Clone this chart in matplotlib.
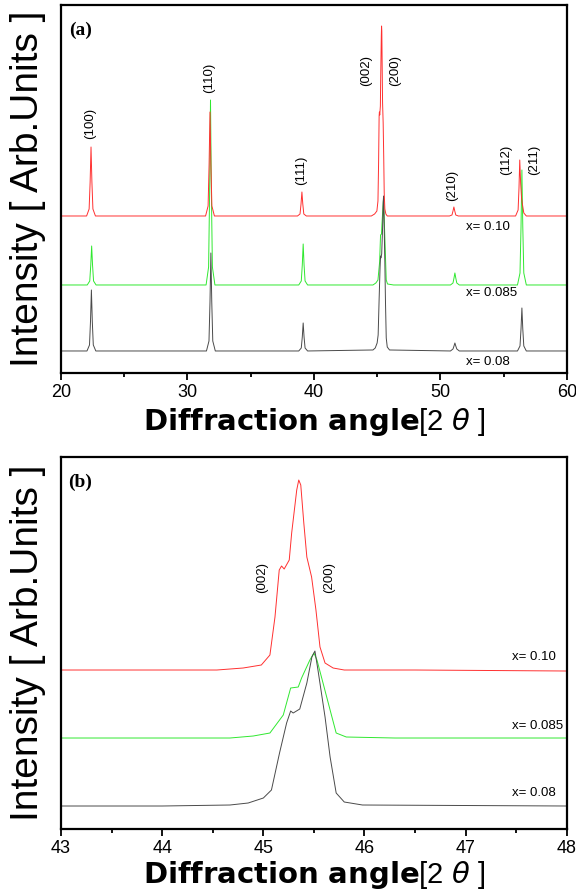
import numpy as np
import matplotlib
matplotlib.use("Agg")
import matplotlib.pyplot as plt
from matplotlib.ticker import MultipleLocator

plt.rcParams['font.family'] = ['Liberation Sans', 'DejaVu Sans']
plt.rcParams['mathtext.fontset'] = 'dejavusans'

# ---- data (net intensity above each baseline, arb. units) ----
SAMPLES = ['x= 0.10', 'x= 0.085', 'x= 0.08']
COLORS = ['#ff3030', '#30e830', '#4a4a4a']

# baselines of the stacked traces
BASE_A = [157, 88, 22]
BASE_B = [159, 91, 23]

# (002)/(200) doublet, as seen in panel (b)
RED_B_TT = [43.0, 44.0, 44.54, 44.8, 44.98, 45.065, 45.115, 45.157, 45.18, 45.206, 45.256, 45.28,
            45.33, 45.35, 45.37, 45.40, 45.43, 45.477, 45.52, 45.56, 45.61, 45.69, 45.8, 46.5, 48.0]
RED_B_I = [0, 0, 0, 2, 5, 15, 53, 100, 104, 101, 110, 137,
           180, 190, 185, 147, 113, 93, 60, 23, 7, 2, 0, 0, -1]

GREEN_B_TT = [43.0, 44.0, 44.67, 44.9, 45.065, 45.197, 45.27, 45.345, 45.378, 45.46, 45.5, 45.53,
              45.59, 45.66, 45.72, 45.82, 46.3, 48.0]
GREEN_B_I = [0, 0, 0, 2, 5, 23, 50, 51, 60, 78, 85, 78,
             55, 28, 5, 1, 0, 0]

BLACK_B_TT = [43.0, 44.0, 44.67, 44.85, 45.0, 45.08, 45.16, 45.23, 45.27, 45.295, 45.36, 45.43, 45.48,
              45.51, 45.54, 45.61, 45.66, 45.72, 45.8, 45.98, 48.0]
BLACK_B_I = [0, 0, 1, 3, 8, 16, 53, 83, 95, 93, 97, 123, 149,
             155, 136, 89, 49, 13, 4, 1, 0]

# remaining reflections of the wide scan, panel (a)
RED_A_TT = [20.0, 22.02, 22.22, 22.30, 22.37, 22.44, 22.52, 22.72,
            31.43, 31.63, 31.71, 31.78, 31.85, 31.93, 32.13,
            38.7, 38.9, 38.98, 39.05, 39.12, 39.2, 39.4,
            50.72, 50.92, 51.0, 51.07, 51.14, 51.22, 51.42,
            55.95, 56.15, 56.22, 56.28, 56.35, 56.42, 56.5, 56.6, 56.8, 60.0]
RED_A_I = [0, 0, 7, 34, 69, 34, 7, 0,
           0, 10, 52, 104, 52, 10, 0,
           0, 2, 12, 24, 12, 2, 0,
           0, 1, 5, 9, 5, 1, 0,
           0, 6, 28, 56, 33, 18, 11, 3, 0, 0]

GREEN_A_TT = [20.0, 22.07, 22.27, 22.35, 22.42, 22.49, 22.57, 22.77,
              31.47, 31.67, 31.75, 31.82, 31.89, 31.97, 32.17,
              38.8, 39.0, 39.08, 39.15, 39.22, 39.3, 39.5,
              50.8, 51.0, 51.08, 51.15, 51.22, 51.3, 51.5,
              56.1, 56.3, 56.38, 56.45, 56.52, 56.6, 56.8, 60.0]
GREEN_A_I = [0, 0, 4, 20, 39, 20, 4, 0,
             0, 18, 92, 185, 92, 18, 0,
             0, 4, 20, 41, 20, 4, 0,
             0, 2, 7, 12, 7, 2, 0,
             0, 12, 58, 115, 58, 12, 0, 0]

BLACK_A_TT = [20.0, 22.05, 22.25, 22.33, 22.40, 22.47, 22.55, 22.75,
              31.5, 31.7, 31.78, 31.85, 31.92, 32.0, 32.2,
              38.8, 39.0, 39.08, 39.15, 39.22, 39.3, 39.5,
              50.8, 51.0, 51.08, 51.15, 51.22, 51.3, 51.5,
              56.1, 56.3, 56.38, 56.45, 56.52, 56.6, 56.8, 60.0]
BLACK_A_I = [0, 0, 6, 30, 61, 30, 6, 0,
             0, 10, 49, 98, 49, 10, 0,
             0, 3, 14, 28, 14, 3, 0,
             0, 2, 5, 8, 5, 2, 0,
             0, 5, 22, 43, 22, 5, 0, 0]

HKL_A = ['(100)', '(110)', '(111)', '(002)', '(200)', '(210)', '(112)', '(211)']
HKL_B = ['(002)', '(200)']


def wide_scan(tt_a, i_a, tt_b, i_b):
    # the wide scan shares the doublet profile of the zoomed scan
    tt_b = np.array(tt_b)
    i_b = np.array(i_b)
    keep = (tt_b > 44.5) & (tt_b < 46.4)
    tt = np.concatenate([tt_a, tt_b[keep]])
    ii = np.concatenate([i_a, i_b[keep]])
    order = np.argsort(tt)
    return tt[order], ii[order]


def style_axis(ax, major, minor):
    for s in ax.spines.values():
        s.set_linewidth(1.6)
    ax.xaxis.set_major_locator(MultipleLocator(major))
    ax.xaxis.set_minor_locator(MultipleLocator(minor))
    ax.tick_params(axis='x', which='major', direction='out', length=5, width=1.3,
                   labelsize=13, pad=3)
    ax.tick_params(axis='x', which='minor', direction='out', length=3, width=1.3)
    ax.set_yticks([])
    ax.text(-0.066, 0.5, 'Intensity [ Arb.Units ]', transform=ax.transAxes, rotation=90,
            ha='center', va='center', fontsize=28)


fig = plt.figure(figsize=(5.76, 8.94), dpi=100)
ax_a = fig.add_axes([0.106, 0.5828, 0.878, 0.4116])
ax_b = fig.add_axes([0.106, 0.0727, 0.878, 0.4161])

# ---- panel (a) ----
traces_a = [wide_scan(RED_A_TT, RED_A_I, RED_B_TT, RED_B_I),
            wide_scan(GREEN_A_TT, GREEN_A_I, GREEN_B_TT, GREEN_B_I),
            wide_scan(BLACK_A_TT, BLACK_A_I, BLACK_B_TT, BLACK_B_I)]
for k in [1, 2, 0]:
    tt, ii = traces_a[k]
    ax_a.plot(tt, ii + BASE_A[k], color=COLORS[k], lw=0.7)
ax_a.set_xlim(20, 60)
ax_a.set_ylim(0, 368)
style_axis(ax_a, 10, 5)

hkl_pos_a = [(22.29, 250), (31.70, 295), (38.97, 203), (44.11, 303), (46.40, 303),
             (50.90, 188), (55.18, 213), (57.39, 213)]
for lab, (x, y) in zip(HKL_A, hkl_pos_a):
    ax_a.text(x, y, lab, rotation=90, ha='center', va='center', fontsize=9.5)
for lab, y in zip(SAMPLES, [146, 80, 11]):
    ax_a.text(52.0, y, lab, ha='left', va='center', fontsize=9.5)
ax_a.text(0.016, 0.932, '(a)', transform=ax_a.transAxes, ha='left', va='center',
          fontsize=14, fontweight='bold', family='Liberation Serif')
ax_a.text(0.5, -0.133, r'$\mathbf{Diffraction\ angle}$[2 $\theta$ ]', transform=ax_a.transAxes,
          ha='center', va='center', fontsize=21)

# ---- panel (b) ----
traces_b = [(RED_B_TT, RED_B_I), (GREEN_B_TT, GREEN_B_I), (BLACK_B_TT, BLACK_B_I)]
for k in [1, 2, 0]:
    tt, ii = traces_b[k]
    ax_b.plot(tt, np.array(ii) + BASE_B[k], color=COLORS[k], lw=0.7)
ax_b.set_xlim(43, 48)
ax_b.set_ylim(0, 372)
style_axis(ax_b, 1, 0.5)

for lab, x in zip(HKL_B, [44.99, 45.65]):
    ax_b.text(x, 252, lab, rotation=90, ha='center', va='center', fontsize=9.5)
for lab, y in zip(SAMPLES, [172, 103, 36]):
    ax_b.text(47.46, y, lab, ha='left', va='center', fontsize=9.5)
ax_b.text(0.014, 0.933, '(b)', transform=ax_b.transAxes, ha='left', va='center',
          fontsize=14, fontweight='bold', family='Liberation Serif')
ax_b.text(0.5, -0.124, r'$\mathbf{Diffraction\ angle}$[2 $\theta$ ]', transform=ax_b.transAxes,
          ha='center', va='center', fontsize=21)

fig.savefig('out.png', dpi=100)
